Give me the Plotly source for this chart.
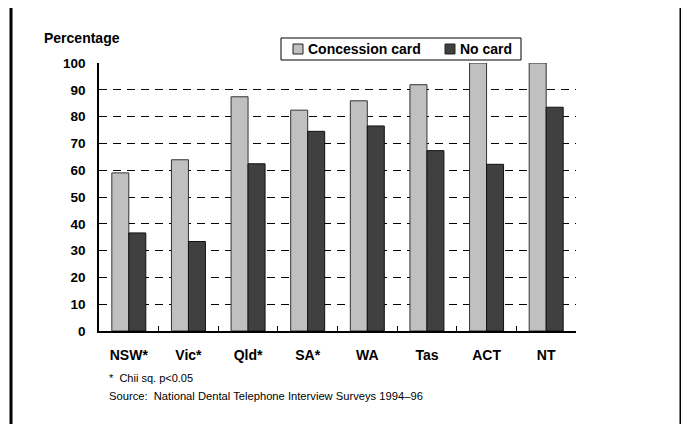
import plotly.graph_objects as go

states = ["NSW*", "Vic*", "Qld*", "SA*", "WA", "Tas", "ACT", "NT"]
concession = [59.0, 63.9, 87.4, 82.4, 85.9, 91.9, 100.0, 100.0]
no_card = [36.6, 33.4, 62.4, 74.5, 76.5, 67.3, 62.2, 83.5]
y_ticks = [0, 10, 20, 30, 40, 50, 60, 70, 80, 90, 100]
series_names = ["Concession card", "No card"]
series_colors = ["#c0c0c0", "#404040"]

FONT = "Liberation Sans, Arial, sans-serif"
OFF = 8  # page body margin offset

fig = go.Figure()
fig.add_trace(go.Bar(name=series_names[0], x=states, y=concession,
                     marker=dict(color=series_colors[0], line=dict(color="#333333", width=1))))
fig.add_trace(go.Bar(name=series_names[1], x=states, y=no_card,
                     marker=dict(color=series_colors[1], line=dict(color="#111111", width=1))))

W, H = 689 - OFF, 424 - OFF
L, R, T, B = 91, 113, 55, 93
pw, ph = W - L - R, H - T - B

def px_x(x):
    return (x - OFF - L) / pw

def px_y(y):
    return (H - B - (y - OFF)) / ph

shapes = [
    dict(type="line", xref="paper", yref="paper", x0=px_x(11), x1=px_x(11), y0=px_y(5), y1=px_y(440),
         line=dict(color="black", width=3)),
    dict(type="line", xref="paper", yref="paper", x0=px_x(681), x1=px_x(681), y0=px_y(5), y1=px_y(440),
         line=dict(color="black", width=3)),
    dict(type="line", xref="paper", yref="paper", x0=px_x(11), x1=px_x(681), y0=px_y(6), y1=px_y(6),
         line=dict(color="black", width=3)),
    # legend box
    dict(type="rect", xref="paper", yref="paper", x0=px_x(281), x1=px_x(521), y0=px_y(38), y1=px_y(60),
         line=dict(color="black", width=1), fillcolor="white"),
]
annotations = [
    dict(text="Percentage", xref="paper", yref="paper", x=px_x(42), y=px_y(38),
         xanchor="left", yanchor="middle", showarrow=False,
         font=dict(size=14, family=FONT, weight="bold")),
    dict(text="*  Chii sq. p&lt;0.05", xref="paper", yref="paper", x=px_x(107), y=px_y(378),
         xanchor="left", yanchor="middle", showarrow=False,
         font=dict(size=11, family=FONT)),
    dict(text="Source:  National Dental Telephone Interview Surveys 1994\u201396", xref="paper", yref="paper",
         x=px_x(107), y=px_y(396), xanchor="left", yanchor="middle", showarrow=False,
         font=dict(size=11.2, family=FONT)),
]
legend_sq_x = [293, 445]
legend_txt_x = [306, 458]
for name, col, sx, tx in zip(series_names, series_colors, legend_sq_x, legend_txt_x):
    shapes.append(dict(type="rect", xref="paper", yref="paper", x0=px_x(sx), x1=px_x(sx + 10),
                       y0=px_y(44), y1=px_y(54), line=dict(color="#222222", width=1), fillcolor=col))
    annotations.append(dict(text=name, xref="paper", yref="paper", x=px_x(tx), y=px_y(49),
                            xanchor="left", yanchor="middle", showarrow=False,
                            font=dict(size=14, family=FONT, weight="bold")))

fig.update_layout(
    width=W, height=H,
    margin=dict(l=L, r=R, t=T, b=B, pad=0),
    paper_bgcolor="white", plot_bgcolor="white",
    barmode="group", bargap=0.43, bargroupgap=0,
    font=dict(family=FONT, color="black"),
    showlegend=False,
    xaxis=dict(showline=True, linecolor="black", linewidth=1.5,
               ticks="inside", tickson="boundaries", ticklen=5, tickcolor="black", tickwidth=1,
               tickfont=dict(size=14, family=FONT, weight="bold"),
               ticklabelstandoff=10, showgrid=False, fixedrange=True),
    yaxis=dict(range=[0, 100], tickvals=y_ticks, showline=True, linecolor="black", linewidth=1.5,
               ticks="", showgrid=True, gridcolor="black", gridwidth=1, griddash="8px,6px",
               zeroline=False, tickfont=dict(size=13.5, family=FONT, weight="bold"),
               ticklabelstandoff=9, fixedrange=True),
    annotations=annotations,
    shapes=shapes,
)

fig.write_html("out.html")
